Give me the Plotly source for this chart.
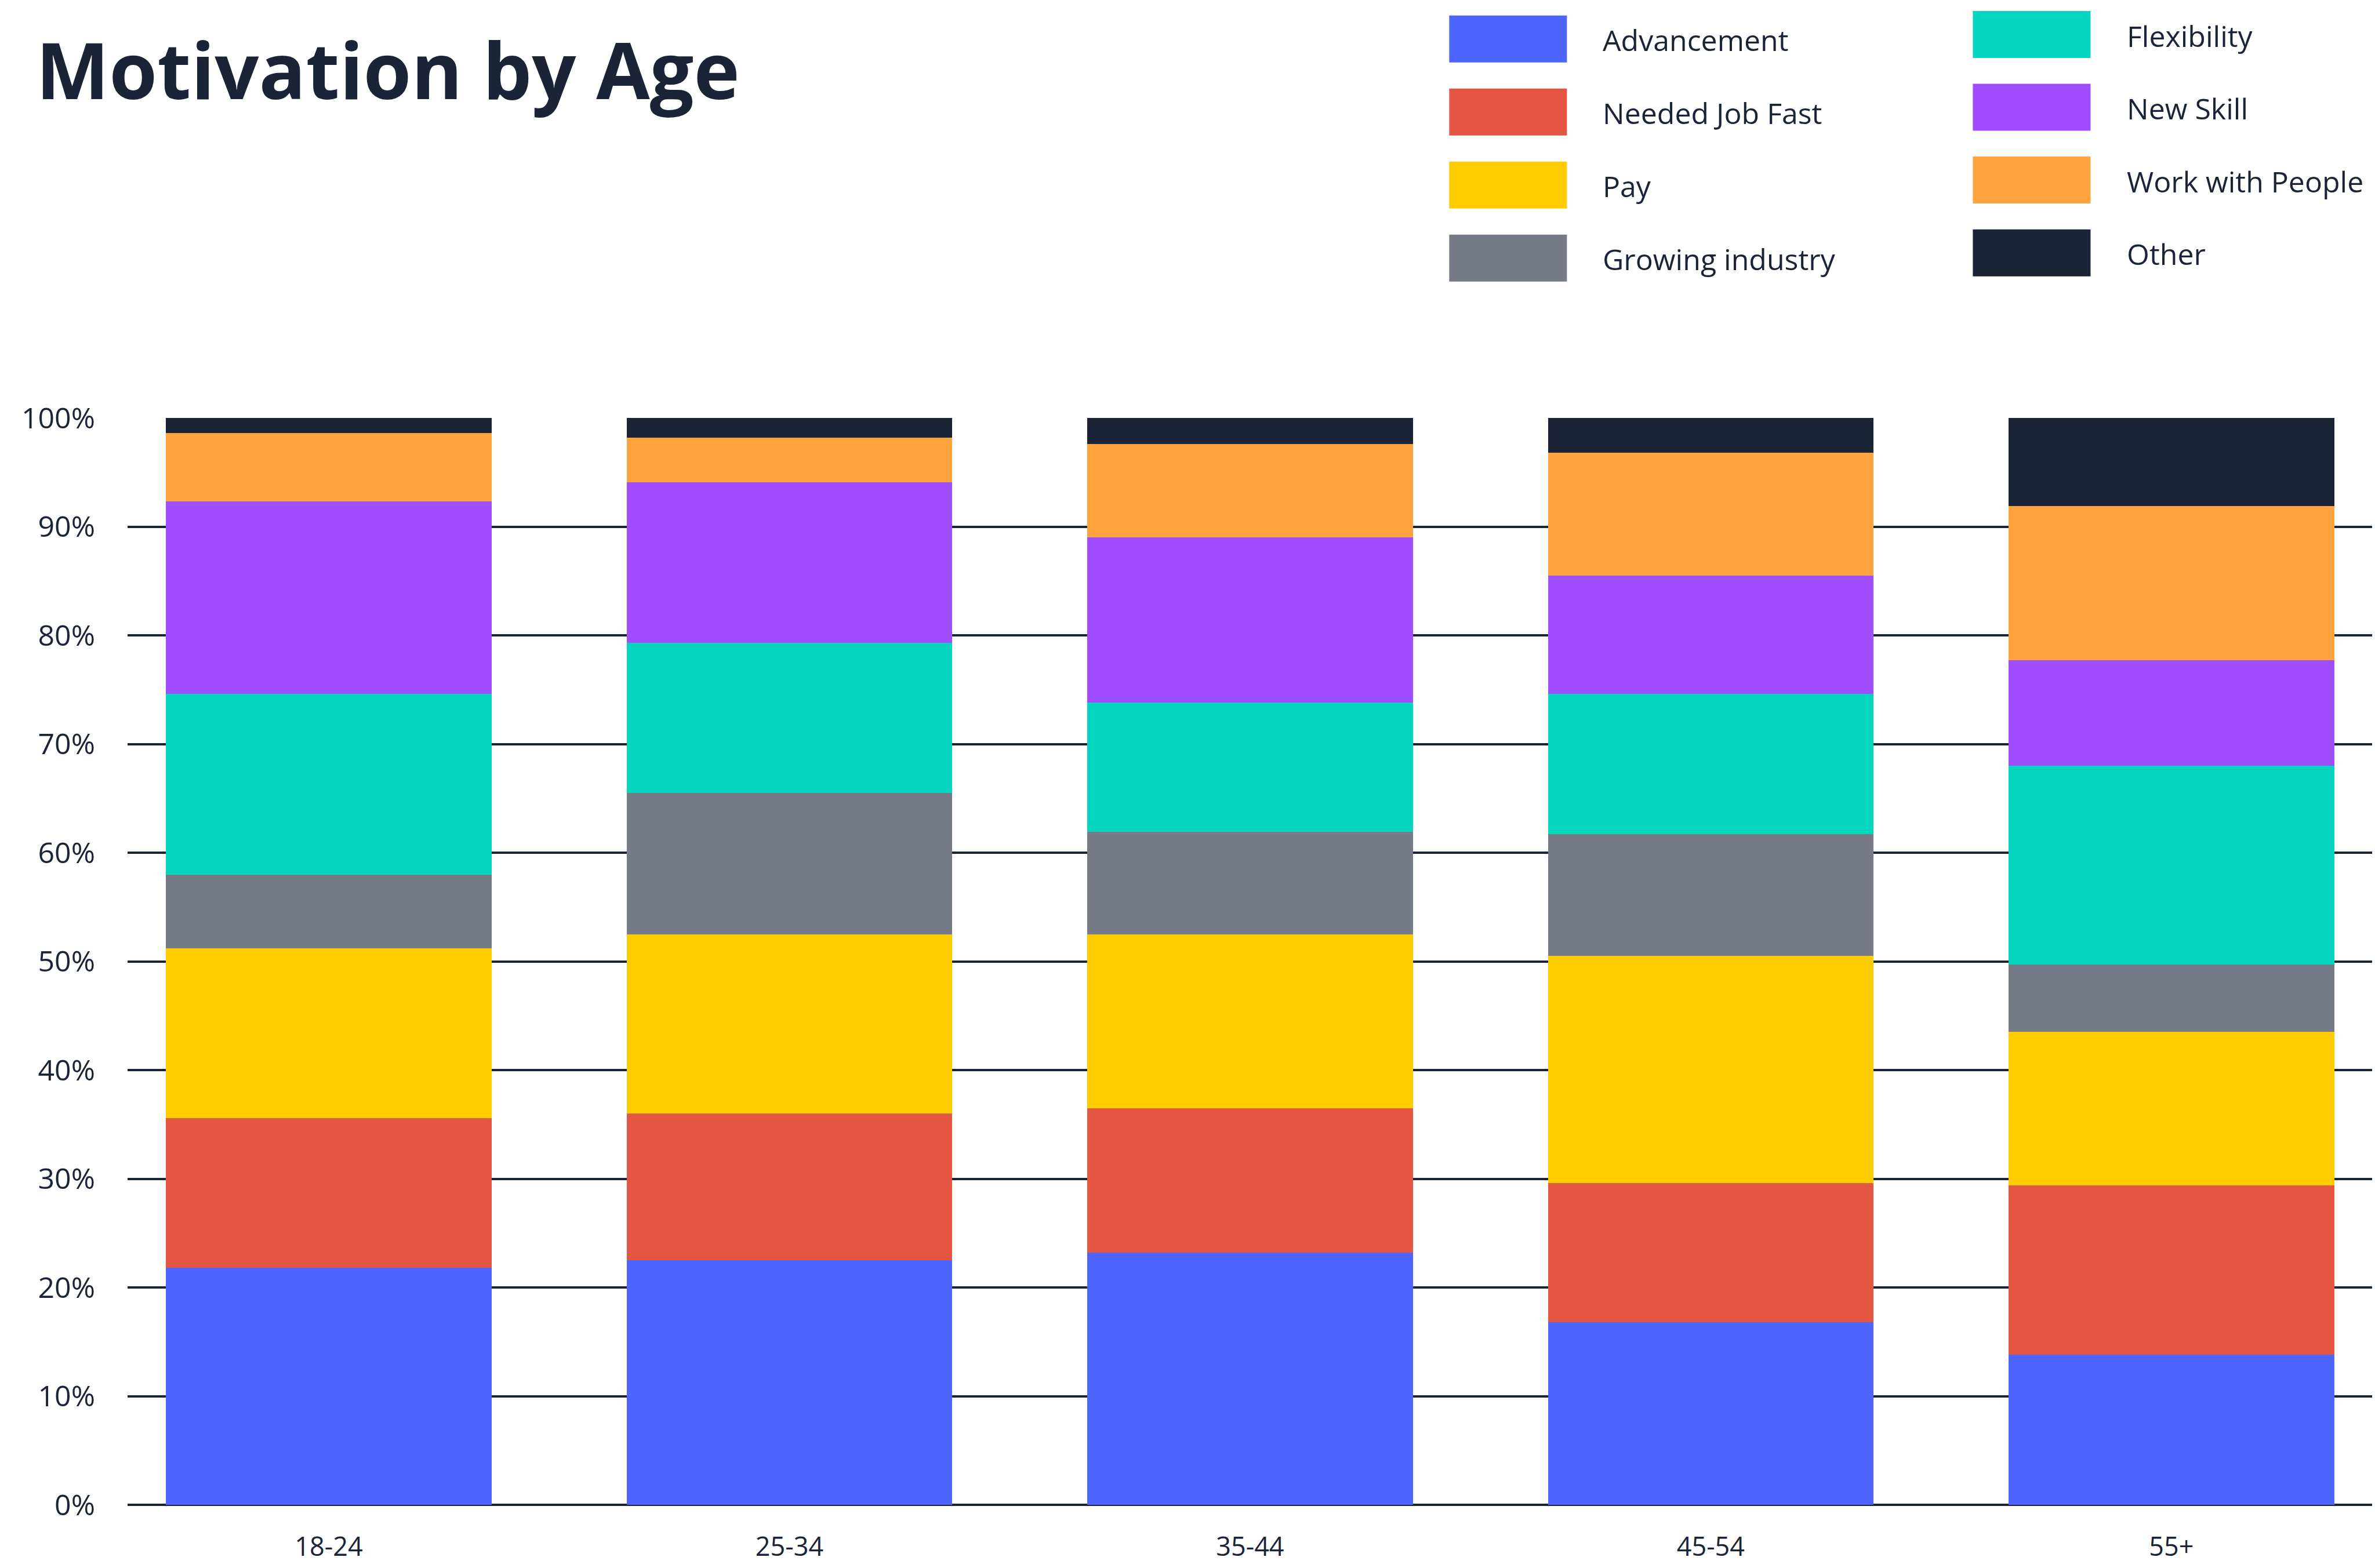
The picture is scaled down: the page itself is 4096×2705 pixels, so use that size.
import plotly.graph_objects as go

categories = ["18-24", "25-34", "35-44", "45-54", "55+"]

advancement = [21.8, 22.5, 23.2, 16.8, 13.8]
needed_job_fast = [13.8, 13.5, 13.3, 12.8, 15.6]
pay = [15.6, 16.5, 16.0, 20.9, 14.1]
growing_industry = [6.8, 13.0, 9.4, 11.2, 6.2]
flexibility = [16.6, 13.8, 11.9, 12.9, 18.3]
new_skill = [17.7, 14.8, 15.2, 10.9, 9.7]
work_with_people = [6.3, 4.1, 8.6, 11.3, 14.2]
other = [1.4, 1.8, 2.4, 3.2, 8.1]

series_names = ["Advancement", "Needed Job Fast", "Pay", "Growing industry",
                "Flexibility", "New Skill", "Work with People", "Other"]
series_values = [advancement, needed_job_fast, pay, growing_industry,
                 flexibility, new_skill, work_with_people, other]
series_colors = ["#4e65ff", "#e55642", "#ffcc00", "#767b87",
                 "#06d6c0", "#a04dff", "#ffa33e", "#1a2436"]

y_ticks = [0, 10, 20, 30, 40, 50, 60, 70, 80, 90, 100]
y_tick_labels = [f"{v}%" for v in y_ticks]

W, H = 4096, 2705
L, R, T, B = 220.4, 4091.0, 721.0, 2595.6
PW, PH = R - L, B - T
TEXT = "#1a2436"
FONT = "Open Sans"


def px_x(px):
    return (px - L) / PW


def px_y(py):
    return (B - py) / PH


fig = go.Figure()
for name, vals, col in zip(series_names, series_values, series_colors):
    fig.add_trace(go.Bar(
        x=categories, y=vals, name=name,
        marker=dict(color=col, line=dict(width=0)),
        width=0.707, showlegend=False,
    ))

# custom legend (two columns of four)
shapes = []
annotations = []
sw_w, sw_h = 203.0, 81.0
col_defs = [(2499.5, 2762.0, 67.3, 126.0), (3402.5, 3666.0, 59.7, 125.5)]
for i, (name, col) in enumerate(zip(series_names, series_colors)):
    c = i // 4
    r = i % 4
    sx, tx, cy0, pitch = col_defs[c]
    cy = cy0 + r * pitch
    shapes.append(dict(
        type="rect", xref="paper", yref="paper",
        x0=px_x(sx), x1=px_x(sx + sw_w),
        y0=px_y(cy + sw_h / 2), y1=px_y(cy - sw_h / 2),
        fillcolor=col, line=dict(width=0), layer="above",
    ))
    annotations.append(dict(
        xref="paper", yref="paper", x=px_x(tx), y=px_y(cy + 2),
        xanchor="left", yanchor="middle", showarrow=False,
        text=name, font=dict(family=FONT, size=50, color=TEXT),
    ))

fig.update_layout(
    width=W, height=H, autosize=False,
    margin=dict(l=L, r=W - R, t=T, b=H - B, pad=0, autoexpand=False),
    paper_bgcolor="white", plot_bgcolor="white",
    barmode="stack", bargap=0.293,
    title=dict(
        text="<b>Motivation by Age</b>",
        xref="container", yref="container",
        x=62 / W, y=1 - 124 / H, xanchor="left", yanchor="middle",
        font=dict(family=FONT, size=134, color=TEXT),
        automargin=False,
    ),
    xaxis=dict(
        range=[-0.4367, 4.4357], showgrid=False, zeroline=False,
        showline=False, ticks="", tickfont=dict(family=FONT, size=45, color=TEXT),
        ticklabelstandoff=42, automargin=False,
    ),
    yaxis=dict(
        range=[0, 100], tickvals=y_ticks, ticktext=y_tick_labels,
        showgrid=True, gridcolor=TEXT, gridwidth=3.5,
        zeroline=True, zerolinecolor=TEXT, zerolinewidth=4,
        showline=False, ticks="",
        tickfont=dict(family=FONT, size=50, color=TEXT),
        ticklabelstandoff=55, automargin=False,
    ),
    shapes=shapes, annotations=annotations,
)

fig.write_html("out.html")
